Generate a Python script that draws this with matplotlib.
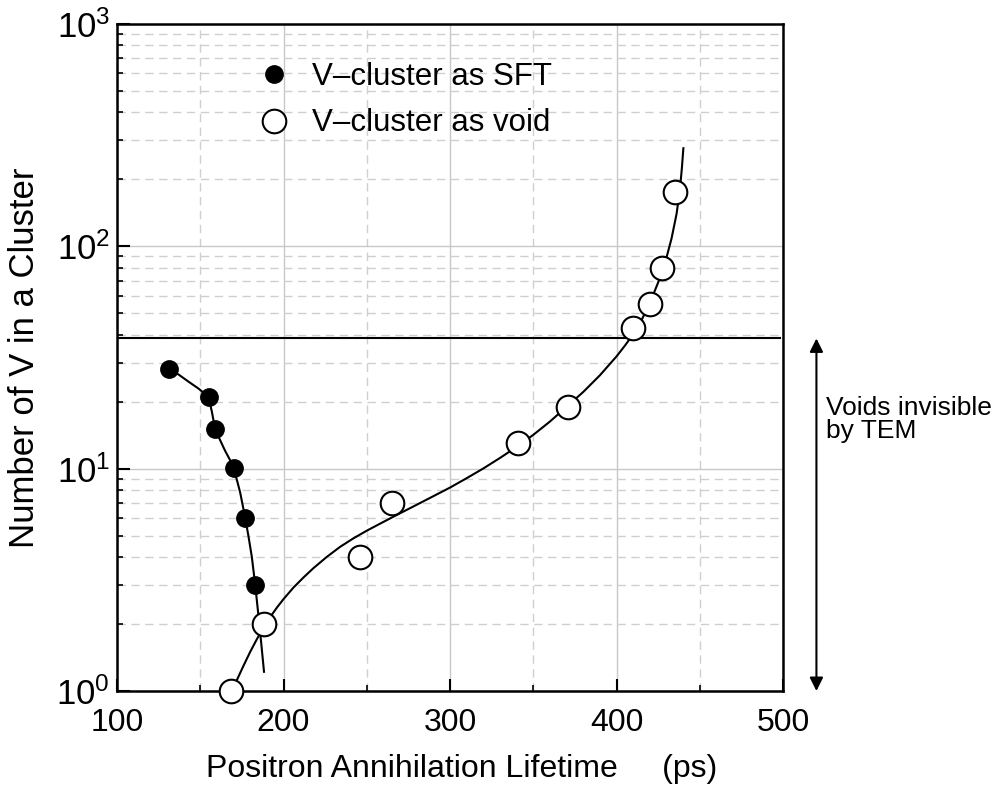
import matplotlib
matplotlib.use("Agg")
import matplotlib.pyplot as plt
from matplotlib.ticker import LogLocator, MultipleLocator, FixedLocator, NullFormatter

plt.rcParams['font.family'] = ['Liberation Sans', 'DejaVu Sans']
plt.rcParams['mathtext.fontset'] = 'custom'
plt.rcParams['mathtext.rm'] = 'Liberation Sans'
plt.rcParams['mathtext.it'] = 'Liberation Sans:italic'

# V-cluster as stacking fault tetrahedra
sft_lifetime = [131, 155, 159, 170, 177, 183]
sft_number = [28, 21, 15, 10.1, 6.0, 3.0]
sft_fit_x = [131, 137, 143, 149, 155, 157, 159, 162, 165, 168, 170, 172, 174, 177,
             179, 181, 183, 185.5, 188.3]
sft_fit_y = [28, 26.5, 24.6, 22.9, 21, 18.0, 15, 13.4, 12.0, 10.9, 10.1, 8.9, 7.8, 6.0,
             4.95, 4.0, 3.0, 2.0, 1.22]

# V-cluster as void
void_lifetime = [168.5, 188, 246, 265, 341, 371, 410, 420, 427, 435]
void_number = [1.0, 2.0, 4.0, 7.0, 13.0, 19.0, 43, 55, 80, 176]
void_fit_x = [172, 176, 180, 184, 188, 192, 196, 200, 206, 212, 218, 226, 234, 242,
              250, 260, 270, 280, 290, 300, 310, 320, 330, 340, 350, 360, 370, 380,
              390, 400, 405, 410, 415, 420, 425, 430, 433, 436, 438, 439.3, 440.1]
void_fit_y = [1.12, 1.30, 1.50, 1.71, 1.93, 2.15, 2.37, 2.59, 2.92, 3.24, 3.57, 4.01,
              4.45, 4.86, 5.26, 5.76, 6.30, 6.88, 7.52, 8.22, 9.06, 10.02, 11.17, 12.53,
              14.19, 16.29, 18.97, 22.13, 26.30, 31.99, 35.73, 40.27, 46.56, 55.59,
              68.87, 89.13, 108.4, 139.6, 177.8, 229.1, 276]

tem_limit = 38.5

fig = plt.figure(figsize=(10.04, 7.97), dpi=100)
ax = fig.add_axes([0.1165, 0.133, 0.6635, 0.837])

ax.plot(sft_fit_x, sft_fit_y, color='black', lw=1.5, zorder=3)
ax.plot(void_fit_x, void_fit_y, color='black', lw=1.5, zorder=3)
ax.plot(sft_lifetime, sft_number, 'o', color='black', ms=12.5, zorder=4,
        label='V\u2013cluster as SFT')
ax.plot(void_lifetime, void_number, 'o', mfc='white', mec='black', mew=1.5, ms=17,
        zorder=4, label='V\u2013cluster as void', clip_on=False)

ax.axhline(tem_limit, xmin=0, xmax=0.995, color='black', lw=1.5, zorder=3)

ax.set_yscale('log')
ax.set_xlim(100, 500)
ax.set_ylim(1, 1000)

ax.xaxis.set_major_locator(MultipleLocator(100))
ax.xaxis.set_minor_locator(MultipleLocator(50))
ax.yaxis.set_major_locator(FixedLocator([1, 10, 100, 1000]))
ax.yaxis.set_minor_locator(LogLocator(base=10, subs=range(2, 10)))
ax.yaxis.set_minor_formatter(NullFormatter())
ax.set_yticklabels([r'$\mathregular{10^{0}}$', r'$\mathregular{10^{1}}$',
                    r'$\mathregular{10^{2}}$', r'$\mathregular{10^{3}}$'])

ax.grid(which='major', color='#c8c8c8', lw=1.0, ls='-')
ax.grid(which='minor', color='#cfcfcf', lw=1.0, ls=(0, (6, 4)))
ax.set_axisbelow(True)

ax.tick_params(which='both', direction='in', top=False, right=False)
ax.tick_params(which='major', length=9, width=1.5)
ax.tick_params(which='minor', length=4.5, width=1.2)
ax.tick_params(axis='x', pad=12, labelsize=23)
ax.tick_params(axis='y', pad=5, labelsize=25)
for sp in ax.spines.values():
    sp.set_linewidth(1.8)

ax.set_xlabel('Positron Annihilation Lifetime     (ps)', fontsize=23, labelpad=12)
ax.xaxis.label.set_x(0.517)
ax.set_ylabel('Number of V in a Cluster', fontsize=25, labelpad=11)

ax.legend(loc='upper left', bbox_to_anchor=(0.2117, 0.943), frameon=False,
          fontsize=22.5, borderpad=0, borderaxespad=0, handletextpad=0.72,
          labelspacing=0.53, handlelength=1.0)

# range of cluster sizes below the TEM detection limit
ax.annotate('', xy=(520, 1.0), xytext=(520, tem_limit), annotation_clip=False,
            arrowprops=dict(arrowstyle='<|-|>', color='black', lw=1.5,
                            mutation_scale=20, shrinkA=0, shrinkB=0))
ax.text(526, 16.6, 'Voids invisible\nby TEM', fontsize=19, ha='left', va='center',
        linespacing=0.95)

fig.savefig('out.png', dpi=100)
